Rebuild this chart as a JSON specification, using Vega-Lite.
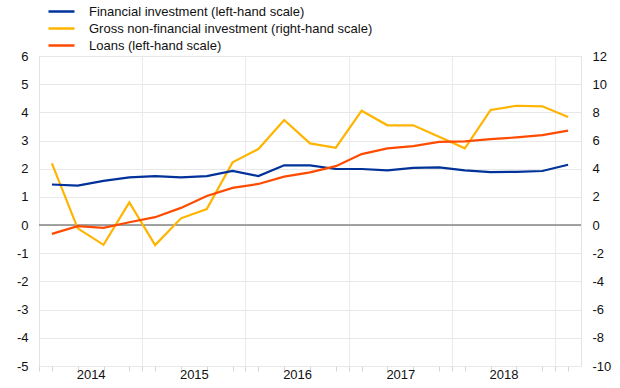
{
  "$schema": "https://vega.github.io/schema/vega-lite/v6.json",
  "width": 542,
  "height": 310,
  "autosize": {"type": "none"},
  "padding": {"left": 39, "top": 56, "right": 39, "bottom": 22},
  "config": {
    "font": "Liberation Sans",
    "view": {"stroke": "#e3e3e3", "strokeWidth": 1},
    "axis": {"labelFont": "Liberation Sans", "labelFontSize": 13, "labelColor": "#111111", "title": null},
    "legend": {"labelFont": "Liberation Sans", "labelFontSize": 13, "labelColor": "#111111"}
  },
  "data": {
    "values": [
      {"quarter": "2014Q1", "t": 0, "series": "Financial investment (left-hand scale)", "value": 1.44},
      {"quarter": "2014Q2", "t": 1, "series": "Financial investment (left-hand scale)", "value": 1.40},
      {"quarter": "2014Q3", "t": 2, "series": "Financial investment (left-hand scale)", "value": 1.57},
      {"quarter": "2014Q4", "t": 3, "series": "Financial investment (left-hand scale)", "value": 1.69},
      {"quarter": "2015Q1", "t": 4, "series": "Financial investment (left-hand scale)", "value": 1.74},
      {"quarter": "2015Q2", "t": 5, "series": "Financial investment (left-hand scale)", "value": 1.69},
      {"quarter": "2015Q3", "t": 6, "series": "Financial investment (left-hand scale)", "value": 1.74},
      {"quarter": "2015Q4", "t": 7, "series": "Financial investment (left-hand scale)", "value": 1.92},
      {"quarter": "2016Q1", "t": 8, "series": "Financial investment (left-hand scale)", "value": 1.74},
      {"quarter": "2016Q2", "t": 9, "series": "Financial investment (left-hand scale)", "value": 2.12},
      {"quarter": "2016Q3", "t": 10, "series": "Financial investment (left-hand scale)", "value": 2.12},
      {"quarter": "2016Q4", "t": 11, "series": "Financial investment (left-hand scale)", "value": 1.99},
      {"quarter": "2017Q1", "t": 12, "series": "Financial investment (left-hand scale)", "value": 1.99},
      {"quarter": "2017Q2", "t": 13, "series": "Financial investment (left-hand scale)", "value": 1.94},
      {"quarter": "2017Q3", "t": 14, "series": "Financial investment (left-hand scale)", "value": 2.03},
      {"quarter": "2017Q4", "t": 15, "series": "Financial investment (left-hand scale)", "value": 2.05},
      {"quarter": "2018Q1", "t": 16, "series": "Financial investment (left-hand scale)", "value": 1.94},
      {"quarter": "2018Q2", "t": 17, "series": "Financial investment (left-hand scale)", "value": 1.88},
      {"quarter": "2018Q3", "t": 18, "series": "Financial investment (left-hand scale)", "value": 1.89},
      {"quarter": "2018Q4", "t": 19, "series": "Financial investment (left-hand scale)", "value": 1.92},
      {"quarter": "2019Q1", "t": 20, "series": "Financial investment (left-hand scale)", "value": 2.14},
      {"quarter": "2014Q1", "t": 0, "series": "Gross non-financial investment (right-hand scale)", "value": 4.38},
      {"quarter": "2014Q2", "t": 1, "series": "Gross non-financial investment (right-hand scale)", "value": -0.23},
      {"quarter": "2014Q3", "t": 2, "series": "Gross non-financial investment (right-hand scale)", "value": -1.40},
      {"quarter": "2014Q4", "t": 3, "series": "Gross non-financial investment (right-hand scale)", "value": 1.61},
      {"quarter": "2015Q1", "t": 4, "series": "Gross non-financial investment (right-hand scale)", "value": -1.42},
      {"quarter": "2015Q2", "t": 5, "series": "Gross non-financial investment (right-hand scale)", "value": 0.48},
      {"quarter": "2015Q3", "t": 6, "series": "Gross non-financial investment (right-hand scale)", "value": 1.14},
      {"quarter": "2015Q4", "t": 7, "series": "Gross non-financial investment (right-hand scale)", "value": 4.45},
      {"quarter": "2016Q1", "t": 8, "series": "Gross non-financial investment (right-hand scale)", "value": 5.40},
      {"quarter": "2016Q2", "t": 9, "series": "Gross non-financial investment (right-hand scale)", "value": 7.46},
      {"quarter": "2016Q3", "t": 10, "series": "Gross non-financial investment (right-hand scale)", "value": 5.80},
      {"quarter": "2016Q4", "t": 11, "series": "Gross non-financial investment (right-hand scale)", "value": 5.49},
      {"quarter": "2017Q1", "t": 12, "series": "Gross non-financial investment (right-hand scale)", "value": 8.12},
      {"quarter": "2017Q2", "t": 13, "series": "Gross non-financial investment (right-hand scale)", "value": 7.08},
      {"quarter": "2017Q3", "t": 14, "series": "Gross non-financial investment (right-hand scale)", "value": 7.08},
      {"quarter": "2017Q4", "t": 15, "series": "Gross non-financial investment (right-hand scale)", "value": 6.27},
      {"quarter": "2018Q1", "t": 16, "series": "Gross non-financial investment (right-hand scale)", "value": 5.45},
      {"quarter": "2018Q2", "t": 17, "series": "Gross non-financial investment (right-hand scale)", "value": 8.17},
      {"quarter": "2018Q3", "t": 18, "series": "Gross non-financial investment (right-hand scale)", "value": 8.47},
      {"quarter": "2018Q4", "t": 19, "series": "Gross non-financial investment (right-hand scale)", "value": 8.43},
      {"quarter": "2019Q1", "t": 20, "series": "Gross non-financial investment (right-hand scale)", "value": 7.67},
      {"quarter": "2014Q1", "t": 0, "series": "Loans (left-hand scale)", "value": -0.31},
      {"quarter": "2014Q2", "t": 1, "series": "Loans (left-hand scale)", "value": -0.04},
      {"quarter": "2014Q3", "t": 2, "series": "Loans (left-hand scale)", "value": -0.10},
      {"quarter": "2014Q4", "t": 3, "series": "Loans (left-hand scale)", "value": 0.10},
      {"quarter": "2015Q1", "t": 4, "series": "Loans (left-hand scale)", "value": 0.28},
      {"quarter": "2015Q2", "t": 5, "series": "Loans (left-hand scale)", "value": 0.61},
      {"quarter": "2015Q3", "t": 6, "series": "Loans (left-hand scale)", "value": 1.03},
      {"quarter": "2015Q4", "t": 7, "series": "Loans (left-hand scale)", "value": 1.32},
      {"quarter": "2016Q1", "t": 8, "series": "Loans (left-hand scale)", "value": 1.46},
      {"quarter": "2016Q2", "t": 9, "series": "Loans (left-hand scale)", "value": 1.72},
      {"quarter": "2016Q3", "t": 10, "series": "Loans (left-hand scale)", "value": 1.87},
      {"quarter": "2016Q4", "t": 11, "series": "Loans (left-hand scale)", "value": 2.09},
      {"quarter": "2017Q1", "t": 12, "series": "Loans (left-hand scale)", "value": 2.52},
      {"quarter": "2017Q2", "t": 13, "series": "Loans (left-hand scale)", "value": 2.72},
      {"quarter": "2017Q3", "t": 14, "series": "Loans (left-hand scale)", "value": 2.80},
      {"quarter": "2017Q4", "t": 15, "series": "Loans (left-hand scale)", "value": 2.95},
      {"quarter": "2018Q1", "t": 16, "series": "Loans (left-hand scale)", "value": 2.97},
      {"quarter": "2018Q2", "t": 17, "series": "Loans (left-hand scale)", "value": 3.05},
      {"quarter": "2018Q3", "t": 18, "series": "Loans (left-hand scale)", "value": 3.11},
      {"quarter": "2018Q4", "t": 19, "series": "Loans (left-hand scale)", "value": 3.19},
      {"quarter": "2019Q1", "t": 20, "series": "Loans (left-hand scale)", "value": 3.35}
    ]
  },
  "layer": [
    {
      "layer": [
        {
          "transform": [{"filter": "datum.t == 0 && datum.series == 'Loans (left-hand scale)'"}],
          "mark": {"type": "rule", "color": "#858585", "strokeWidth": 1.5},
          "encoding": {
            "y": {"datum": 0, "type": "quantitative", "scale": {"domain": [-10, 12], "nice": false, "zero": false},
              "axis": {"orient": "right", "values": [-10, -8, -6, -4, -2, 0, 2, 4, 6, 8, 10, 12], "labelExpr": "'' + datum.value", "grid": false, "domain": false, "ticks": false, "labelPadding": 11, "title": null}}
          }
        },
        {
          "transform": [{"filter": "datum.series == 'Gross non-financial investment (right-hand scale)'"}],
          "mark": {"type": "line", "strokeWidth": 2.2},
          "encoding": {
            "x": {"field": "t", "type": "quantitative", "scale": {"domain": [-0.5, 20.5], "nice": false, "zero": false},
              "axis": {
                "values": [-0.5, 0, 1, 1.5, 2, 3, 3.5, 4, 5, 5.5, 6, 7, 7.5, 8, 9, 9.5, 10, 11, 11.5, 12, 13, 13.5, 14, 15, 15.5, 16, 17, 17.5, 18, 19, 19.5, 20],
                "labelExpr": "(datum.value + 0.5) % 4 == 2 ? '' + (2014 + floor(datum.value / 4)) : ''",
                "labelOverlap": false, "labelFlush": false, "labelBound": false,
                "domain": false, "tickSize": 5, "tickColor": "#d6d6d6", "labelPadding": -3,
                "tickOpacity": {"condition": {"test": "(datum.value + 0.5) % 4 == 2", "value": 0}, "value": 1},
                "grid": true, "gridColor": "#ebebeb",
                "gridOpacity": {"condition": {"test": "(datum.value + 0.5) % 4 == 0 && datum.value > 0", "value": 1}, "value": 0},
                "title": null
              }},
            "y": {"field": "value", "type": "quantitative", "scale": {"domain": [-10, 12], "nice": false, "zero": false},
              "axis": {"orient": "right", "values": [-10, -8, -6, -4, -2, 0, 2, 4, 6, 8, 10, 12], "labelExpr": "'' + datum.value", "grid": false, "domain": false, "ticks": false, "labelPadding": 11, "title": null}},
            "color": {"field": "series", "type": "nominal",
              "scale": {"domain": ["Financial investment (left-hand scale)", "Gross non-financial investment (right-hand scale)", "Loans (left-hand scale)"], "range": ["#003299", "#FFB400", "#FF4B00"]},
              "legend": {"orient": "none", "legendX": 8, "legendY": -53, "title": null, "symbolType": "stroke", "symbolSize": 676, "symbolStrokeWidth": 2.5, "labelOffset": 13, "labelFontSize": 13, "labelFont": "Liberation Sans", "labelLimit": 0, "clipHeight": 17, "rowPadding": 0, "padding": 0}}
          }
        }
      ]
    },
    {
      "transform": [{"filter": "datum.series != 'Gross non-financial investment (right-hand scale)'"}],
      "mark": {"type": "line", "strokeWidth": 2.2},
      "encoding": {
        "x": {"field": "t", "type": "quantitative", "scale": {"domain": [-0.5, 20.5], "nice": false, "zero": false},
          "axis": {
            "values": [-0.5, 0, 1, 1.5, 2, 3, 3.5, 4, 5, 5.5, 6, 7, 7.5, 8, 9, 9.5, 10, 11, 11.5, 12, 13, 13.5, 14, 15, 15.5, 16, 17, 17.5, 18, 19, 19.5, 20],
            "labelExpr": "(datum.value + 0.5) % 4 == 2 ? '' + (2014 + floor(datum.value / 4)) : ''",
            "labelOverlap": false, "labelFlush": false, "labelBound": false,
            "domain": false, "tickSize": 5, "tickColor": "#d6d6d6", "labelPadding": -3,
            "tickOpacity": {"condition": {"test": "(datum.value + 0.5) % 4 == 2", "value": 0}, "value": 1},
            "grid": true, "gridColor": "#ebebeb",
            "gridOpacity": {"condition": {"test": "(datum.value + 0.5) % 4 == 0 && datum.value > 0", "value": 1}, "value": 0},
            "title": null
          }},
        "y": {"field": "value", "type": "quantitative", "scale": {"domain": [-5, 6], "nice": false, "zero": false},
          "axis": {"orient": "left", "values": [-5, -4, -3, -2, -1, 0, 1, 2, 3, 4, 5, 6], "labelExpr": "'' + datum.value", "grid": true, "gridColor": "#e8e8e8", "domain": false, "ticks": false, "labelPadding": 11, "title": null}},
        "color": {"field": "series", "type": "nominal"}
      }
    }
  ],
  "resolve": {"scale": {"y": "independent"}, "axis": {"y": "independent"}}
}
